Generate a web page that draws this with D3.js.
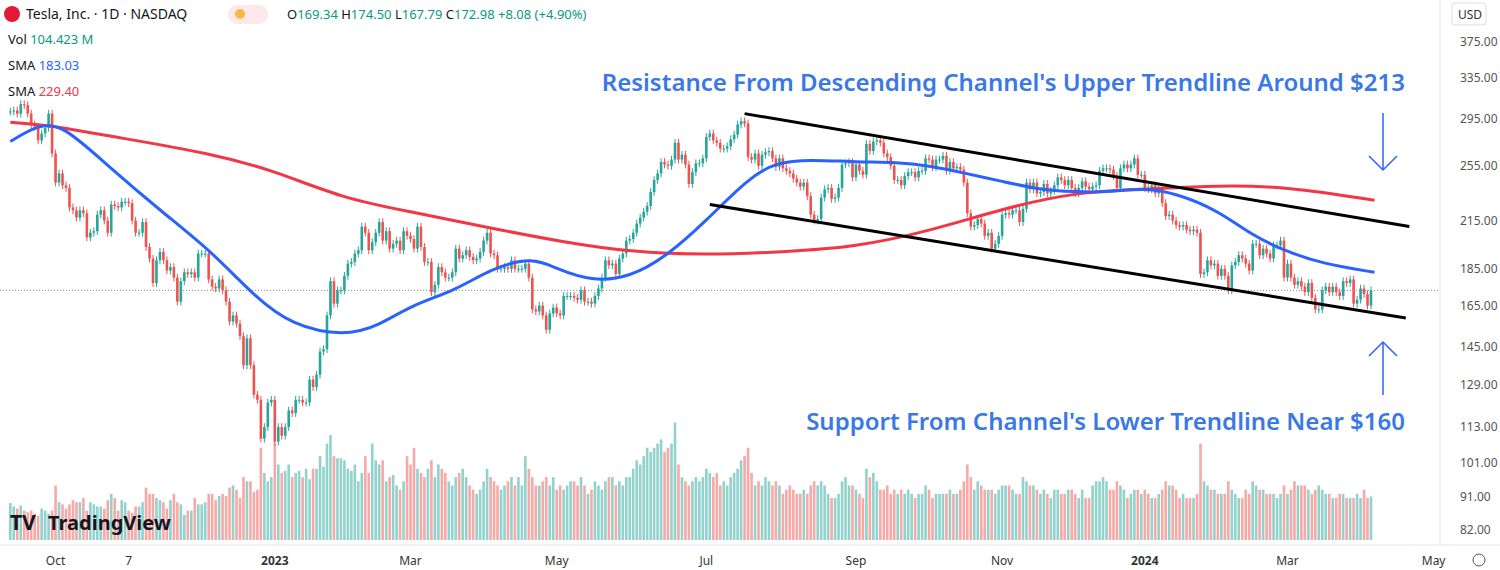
<!DOCTYPE html>
<html><head><meta charset="utf-8">
<script src="https://cdn.jsdelivr.net/npm/d3@7"></script>
<style>
body{margin:0;background:#fff;font-family:"Noto Sans",Roboto,sans-serif}
</style></head><body>
<svg id="chart" width="1500" height="570"></svg>
<script>
// daily closes by month, Sep 14 2022 .. Apr 8 2024
var closes = [
 302,303,300,309,308,300,290,288,276,282,287,300,265,
 242,249,240,238,224,222,217,222,220,204,207,208,219,222,215,207,226,225,224,228,228,
 227,215,207,207,214,198,191,177,190,195,190,184,186,180,167,178,183,182,183,180,194,
 194,194,179,175,174,179,173,167,157,160,156,150,137,149,137,125,123,109,113,122,123,
 108,113,110,113,119,118,123,123,122,122,131,128,133,143,144,160,178,166,173,173,
 181,188,189,194,196,211,207,196,201,207,214,202,208,197,200,202,196,208,205,
 203,197,211,198,189,189,172,176,186,183,180,180,183,197,191,193,196,192,190,191,195,202,207,
 194,193,185,185,186,185,190,185,185,185,188,180,163,162,165,160,153,161,164,
 161,160,170,170,170,169,168,173,167,167,166,170,174,180,190,187,188,182,191,194,202,203,
 207,213,217,221,225,235,244,249,258,256,255,260,274,260,264,256,241,250,257,257,261,
 279,282,276,274,269,269,271,277,281,290,293,291,262,260,265,255,264,266,267,
 261,254,261,253,251,249,245,242,239,242,232,219,215,216,231,237,238,230,231,238,256,257,258,
 246,256,251,248,273,267,275,276,274,265,262,255,244,244,240,247,250,250,246,251,
 251,261,260,254,260,260,263,251,258,253,254,252,242,220,211,212,216,213,205,207,197,200,
 205,219,220,219,222,222,214,223,242,237,242,234,235,241,234,236,240,246,244,240,244,
 238,234,238,243,239,237,239,240,251,253,253,252,247,238,253,256,253,256,261,248,
 248,238,237,240,234,238,227,218,219,215,212,211,212,209,208,209,207,182,183,190,187,
 188,181,185,181,173,187,189,193,191,188,184,200,200,193,197,194,191,199,199,202,
 180,188,180,176,178,175,172,177,169,163,163,173,175,172,175,172,170,178,177,179,
 166,168,174,171,165,173
];
var volumes = [
 88,80,75,82,70,66,70,63,58,75,70,63,70,
 130,90,85,75,85,95,90,90,100,70,90,85,80,80,75,95,110,100,70,95,90,
 70,65,80,80,90,125,110,110,100,95,90,75,95,110,90,85,60,70,70,100,85,
 85,90,110,110,95,105,110,105,125,130,120,100,150,140,140,115,120,220,160,140,150,
 230,180,160,165,180,150,160,165,150,170,145,170,170,200,175,230,250,200,195,195,
 190,170,165,180,140,160,200,160,230,190,180,190,140,150,155,130,120,140,200,
 180,220,170,160,150,170,190,150,180,170,160,140,130,150,160,170,150,130,120,110,120,140,170,
 150,140,130,120,130,140,150,130,150,130,200,170,150,130,130,140,150,130,150,
 120,130,120,130,140,140,130,150,130,110,120,140,130,120,140,150,150,130,140,130,150,150,
 170,190,180,200,220,210,220,230,240,210,220,230,280,180,150,140,130,140,150,140,150,
 170,160,150,160,130,140,130,150,160,170,190,200,220,160,130,140,130,150,140,
 130,140,130,110,120,130,120,110,110,120,110,130,140,130,140,130,110,100,100,110,140,150,130,
 130,120,110,100,170,150,160,140,120,120,130,110,120,110,120,110,120,110,100,110,
 110,130,120,100,110,110,110,110,120,110,110,120,140,180,150,120,140,130,120,120,120,110,
 120,130,130,130,120,110,110,150,140,130,130,120,110,120,110,100,120,120,110,110,120,
 120,110,100,120,100,100,130,140,140,150,140,120,120,140,130,120,100,110,120,120,
 110,120,110,100,100,110,120,140,130,130,120,100,110,100,100,100,110,230,140,130,120,
 120,110,110,110,140,120,110,100,100,120,110,140,130,120,120,110,110,110,100,110,
 130,110,120,140,130,130,130,120,110,120,130,120,110,110,100,100,110,110,100,100,
 100,110,100,120,100,104
];
var holidays = ["2022-11-24","2022-12-26","2023-01-02","2023-01-16","2023-02-20","2023-04-07","2023-05-29",
 "2023-06-19","2023-07-04","2023-09-04","2023-11-23","2023-12-25","2024-01-01","2024-01-15","2024-02-19","2024-03-29"];
var sma50 = [["2022-09-14",275],["2022-09-26",290],["2022-10-05",290],["2022-10-24",255],["2022-11-15",220],
 ["2022-12-06",195],["2022-12-22",170],["2023-01-10",155],["2023-02-01",150],["2023-02-15",155],["2023-03-01",165],
 ["2023-03-20",173],["2023-04-03",185],["2023-04-20",192],["2023-05-01",185],["2023-05-15",178],["2023-05-31",180],
 ["2023-06-15",193],["2023-07-03",215],["2023-07-20",245],["2023-08-01",258],["2023-08-15",260],["2023-09-01",258],
 ["2023-09-20",258],["2023-10-03",255],["2023-10-16",250],["2023-11-01",243],["2023-11-15",237],["2023-12-01",235],
 ["2023-12-15",235],["2024-01-02",238],["2024-01-15",234],["2024-02-01",222],["2024-02-15",205],["2024-03-01",195],
 ["2024-03-15",188],["2024-04-08",183]];
var sma200 = [["2022-09-14",292],["2022-09-28",290],["2022-10-24",280],["2022-12-06",265],["2023-01-03",251],
 ["2023-02-01",230],["2023-03-01",221],["2023-04-03",210],["2023-05-03",201],["2023-05-31",195],["2023-07-03",193],
 ["2023-08-03",195],["2023-09-01",198],["2023-10-03",208],["2023-11-01",223],["2023-12-01",235],["2024-01-02",237],
 ["2024-02-01",240],["2024-03-01",239],["2024-04-08",229]];
var trendUpper = [["2023-07-19",300],["2024-04-22",211]];
var trendLower = [["2023-07-05",226],["2024-04-19",158.7]];
var priceTicks = [375,335,295,255,215,185,165,145,129,113,101,91,82];
var monthTicks = [["2022-10-03","Oct"],["2022-11-01","7"],["2023-01-03","2023"],["2023-03-01","Mar"],["2023-05-01","May"],
 ["2023-07-03","Jul"],["2023-09-01","Sep"],["2023-11-01","Nov"],["2024-01-02","2024"],["2024-03-01","Mar"],["2024-05-01","May"]];

var svg = d3.select("#chart"), W = 1440, parse = d3.timeParse("%Y-%m-%d"), fmt = d3.timeFormat("%Y-%m-%d");
// trading dates
var dates = [], d = parse("2022-09-14");
while (dates.length < closes.length) {
	var wd = d.getDay();
	if (wd != 0 && wd != 6 && holidays.indexOf(fmt(d)) < 0) dates.push(new Date(d));
	d = d3.timeDay.offset(d, 1);
}
var n = closes.length, step = 3.48;
var x = d3.scaleLinear().domain([0, n-1]).range([1371-(n-1)*step, 1371]);
function idx(s) {
	var t = parse(s), i = d3.bisectLeft(dates, t);
	if (i < n) return i;
	return n-1 + d3.timeDay.range(dates[n-1], t).filter(function(q){return q.getDay()%6!=0}).length;
}
var y = d3.scaleLog().domain([82,375]).range([530,42]);
var yv = d3.scaleLinear().domain([0,310]).range([540,410]);
var up = "#26a69a", dn = "#ef5350";
var bars = closes.map(function(c,i){
	var o = i ? closes[i-1] : c;
	return {i:i, o:o, c:c, v:volumes[i]||0};
});

svg.append("clipPath").attr("id","clip").append("rect").attr("width",W).attr("height",570);
var g = svg.append("g").attr("clip-path","url(#clip)");

// volume
g.selectAll("rect.vol").data(bars).enter().append("rect")
	.attr("x", function(b){return x(b.i)-1.3}).attr("width",2.6)
	.attr("y", function(b){return yv(b.v)}).attr("height", function(b){return yv(0)-yv(b.v)})
	.attr("fill", function(b){return b.c>=b.o?"#92d2cc":"#f7a9a7"});

// last price line
g.append("line").attr("x1",0).attr("x2",W).attr("y1",y(172.98)).attr("y2",y(172.98))
	.attr("stroke","#888").attr("stroke-dasharray","1,2");

// candles
var cg = g.selectAll("g.c").data(bars).enter().append("g");
cg.append("line").attr("x1",function(b){return x(b.i)}).attr("x2",function(b){return x(b.i)})
	.attr("y1",function(b){return y(Math.max(b.o,b.c)*1.012)}).attr("y2",function(b){return y(Math.min(b.o,b.c)*0.988)})
	.attr("stroke",function(b){return b.c>=b.o?up:dn});
cg.append("rect").attr("x",function(b){return x(b.i)-1.3}).attr("width",2.6)
	.attr("y",function(b){return y(Math.max(b.o,b.c))})
	.attr("height",function(b){return Math.max(1,y(Math.min(b.o,b.c))-y(Math.max(b.o,b.c)))})
	.attr("fill",function(b){return b.c>=b.o?up:dn});

// moving averages
var line = d3.line().x(function(p){return x(idx(p[0]))}).y(function(p){return y(p[1])}).curve(d3.curveBasis);
g.append("path").attr("d",line(sma200)).attr("fill","none").attr("stroke","#f23645").attr("stroke-width",3);
g.append("path").attr("d",line(sma50)).attr("fill","none").attr("stroke","#2962ff").attr("stroke-width",3);
var sl = d3.line().x(function(p){return x(idx(p[0]))}).y(function(p){return y(p[1])});
[trendUpper,trendLower].forEach(function(t){
	g.append("path").attr("d",sl(t)).attr("stroke","#000").attr("stroke-width",3);
});

// arrows
function arrow(x0,y0,y1){
	var dir = y1>y0?1:-1;
	svg.append("line").attr("x1",x0).attr("x2",x0).attr("y1",y0).attr("y2",y1).attr("stroke","#2962ff").attr("stroke-width",1.5);
	svg.append("path").attr("d","M"+(x0-14)+","+(y1-14*dir)+"L"+x0+","+y1+"L"+(x0+14)+","+(y1-14*dir))
		.attr("fill","none").attr("stroke","#2962ff").attr("stroke-width",1.5);
}
arrow(1383,113,170); arrow(1383,395,342);
svg.append("text").attr("x",1405).attr("y",91).attr("text-anchor","end").attr("font-size",24).attr("font-weight",600)
	.attr("fill","#3a78e6").text("Resistance From Descending Channel's Upper Trendline Around $213");
svg.append("text").attr("x",1405).attr("y",430).attr("text-anchor","end").attr("font-size",24).attr("font-weight",600)
	.attr("fill","#3a78e6").text("Support From Channel's Lower Trendline Near $160");

// right axis
svg.append("line").attr("x1",W).attr("x2",W).attr("y1",0).attr("y2",545).attr("stroke","#e0e3eb");
svg.selectAll("text.pt").data(priceTicks).enter().append("text")
	.attr("x",1460).attr("y",function(v){return y(v)+4}).attr("font-size",12).attr("fill","#555")
	.text(function(v){return v.toFixed(2)});
svg.append("rect").attr("x",1452).attr("y",3).attr("width",34).attr("height",22).attr("rx",3).attr("fill","#fff").attr("stroke","#ddd");
svg.append("text").attr("x",1458).attr("y",19).attr("font-size",12).attr("fill","#333").text("USD");
// bottom axis
svg.append("line").attr("x1",0).attr("x2",1500).attr("y1",545).attr("y2",545).attr("stroke","#e0e3eb");
svg.selectAll("text.mt").data(monthTicks).enter().append("text")
	.attr("x",function(m){return x(idx(m[0]))}).attr("y",565).attr("text-anchor","middle").attr("font-size",12)
	.attr("font-weight",function(m){return m[1].length==4?700:400}).attr("fill","#333").text(function(m){return m[1]});
svg.append("circle").attr("cx",1479).attr("cy",560).attr("r",6).attr("fill","none").attr("stroke","#555");

// header
svg.append("circle").attr("cx",12).attr("cy",14).attr("r",8).attr("fill","#e31937");
svg.append("text").attr("x",26).attr("y",19).attr("font-size",14).attr("fill","#131722").text("Tesla, Inc. · 1D · NASDAQ");
svg.append("rect").attr("x",228).attr("y",5).attr("width",40).attr("height",19).attr("rx",9).attr("fill","#fde8ea");
svg.append("circle").attr("cx",240).attr("cy",14).attr("r",5).attr("fill","#f5b942");
var ohlc = [["O","169.34"],["H","174.50"],["L","167.79"],["C","172.98"]];
var hx = 287, ht = svg.append("text").attr("y",19).attr("x",hx).attr("font-size",13);
ohlc.forEach(function(p){ ht.append("tspan").attr("fill","#131722").text(p[0]); ht.append("tspan").attr("fill","#089981").text(p[1]+" "); });
ht.append("tspan").attr("fill","#089981").text("+8.08 (+4.90%)");
var legends = [["Vol","104.423 M","#089981"],["SMA","183.03","#2962ff"],["SMA","229.40","#f23645"]];
legends.forEach(function(l,i){
	var t = svg.append("text").attr("x",8).attr("y",44+i*26).attr("font-size",13);
	t.append("tspan").attr("fill","#131722").text(l[0]+"  ");
	t.append("tspan").attr("fill",l[2]).text(l[1]);
});
// logo
svg.append("text").attr("x",10).attr("y",530).attr("font-size",21).attr("font-weight",700).attr("fill","#131722").text("TV");
svg.append("text").attr("x",48).attr("y",530).attr("font-size",20).attr("font-weight",700).attr("fill","#131722").text("TradingView");
</script></body></html>
